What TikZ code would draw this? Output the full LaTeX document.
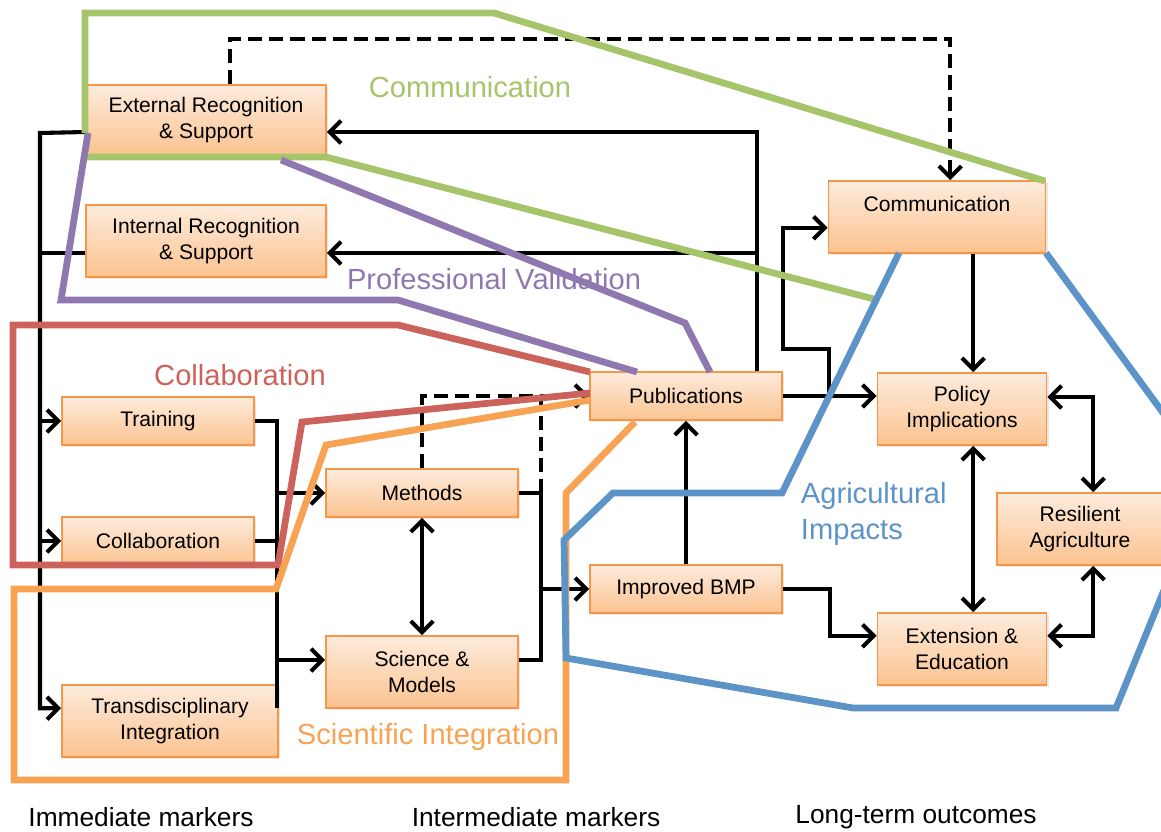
\documentclass[tikz,border=0pt]{standalone}
\usepackage{fontspec}
\setmainfont{Liberation Sans}
\usetikzlibrary{positioning}
\usetikzlibrary{arrows.meta}
\usetikzlibrary{shadows}

\definecolor{boxtop}{HTML}{FDEBDC}
\definecolor{boxbot}{HTML}{FBC390}
\definecolor{boxedge}{HTML}{F79646}
\definecolor{zgreen}{HTML}{A6C46A}
\definecolor{zpurple}{HTML}{8F78AF}
\definecolor{zred}{HTML}{CC625C}
\definecolor{zorange}{HTML}{F8A253}
\definecolor{zblue}{HTML}{5D94C8}

\begin{document}
\begin{tikzpicture}[x=0.025cm, y=-0.025cm,
    box/.style={draw=boxedge, line width=1.2pt, top color=boxtop, bottom color=boxbot,
                align=center, inner sep=0pt, font=\fontsize{15}{18}\selectfont,
                drop shadow={opacity=0.18, shadow xshift=1.5pt, shadow yshift=-1.5pt}},
    wire/.style={line width=2.9pt},
    arr/.style={wire, -{Straight Barb[length=8pt,width=16pt]}},
    arrs/.style={wire, {Straight Barb[length=8pt,width=16pt]}-{Straight Barb[length=8pt,width=16pt]}},
    dashwire/.style={dash pattern=on 10pt off 5pt},
    zone/.style={line width=4.8pt},
    group/.style={font=\fontsize{20.7}{25}\selectfont},
    stage/.style={font=\fontsize{18.7}{22}\selectfont}]
    \useasboundingbox (0,0) rectangle (1161,831);

    % boxes
    \node[box, minimum width=6cm, minimum height=1.75cm] (ext) at (206,120) {External Recognition\\\& Support};
    \node[box, minimum width=6cm, minimum height=1.8cm] (int) at (206,241) {Internal Recognition\\\& Support};
    \node[box, minimum width=4.8cm, minimum height=1.2cm] (train) at (158,421) {Training};
    \node[box, minimum width=4.8cm, minimum height=1.2cm] (collab) at (158,541) {Collaboration};
    \node[box, minimum width=5.4cm, minimum height=1.8cm] (trans) at (170,721) {Transdisciplinary\\Integration};
    \node[box, minimum width=4.8cm, minimum height=1.2cm] (meth) at (422,493) {Methods};
    \node[box, minimum width=4.8cm, minimum height=1.8cm] (sci) at (422,672) {Science \&\\Models};
    \node[box, minimum width=4.8cm, minimum height=1.2cm] (pub) at (686,396) {Publications};
    \node[box, minimum width=4.8cm, minimum height=1.2cm] (bmp) at (686,589) {Improved BMP};
    \node[box, minimum width=5.425cm, minimum height=1.8cm] (comm) at (937,217) {Communication\\\mbox{}};
    \node[box, minimum width=4.225cm, minimum height=1.8cm] (pol) at (962,409) {Policy\\Implications};
    \node[box, minimum width=4.15cm, minimum height=1.8cm] (res) at (1080,529) {Resilient\\Agriculture};
    \node[box, minimum width=4.225cm, minimum height=1.8cm] (edu) at (962,649) {Extension \&\\Education};

    % left side
    \coordinate (lbus) at (40,133);
    \coordinate (mbus) at (277,708);
    \coordinate (rbus) at (541,396);
    \coordinate (tbus) at ([xshift=1.78cm]pub.north);
    \draw[arr] ([yshift=-0.3cm]ext.west) -- (lbus) |- ([yshift=0.32cm]trans.west);
    \draw[wire] ([yshift=-0.3cm]int.west) -- ([yshift=-0.3cm]int.west -| lbus);
    \draw[arr] (lbus |- train.west) -- (train.west);
    \draw[arr] (lbus |- collab.west) -- (collab.west);
    \draw[wire] (train.east) -| (mbus);
    \draw[wire] (collab.east) -- (collab.east -| mbus);
    \draw[arr] (mbus |- meth.west) -- (meth.west);
    \draw[arr] ([yshift=0.3cm]sci.west -| mbus) -- ([yshift=0.3cm]sci.west);
    \draw[arrs] (meth.south) -- (sci.north);

    % middle
    \draw[wire] (meth.east) -- (meth.east -| rbus);
    \draw[wire] ([yshift=0.3cm]sci.east) -| (rbus |- meth.east);
    \draw[wire, dashwire] (rbus |- meth.east) -- (rbus);
    \draw[arr] (rbus |- bmp.west) -- (bmp.west);
    \draw[arr, dashwire] (meth.north) |- (pub.west);
    \draw[arr] (bmp.north) -- (pub.south);
    \draw[arr] (bmp.east) -- ++(47,0) |- ([yshift=0.33cm]edu.west);
    \draw[arr] (pub.east) -- (pub.east -| pol.west);
    \draw[arr] ([xshift=1.15cm]pub.east) -- ++(0,-47) -| ([yshift=-0.27cm]comm.west -| pub.east) -- ([yshift=-0.27cm]comm.west);
    \draw[arr] (tbus) |- ([yshift=-0.3cm]ext.east);
    \draw[arr] ([yshift=-0.3cm]int.east -| tbus) -- ([yshift=-0.3cm]int.east);
    \draw[arr, dashwire] ([xshift=0.6cm]ext.north) -- ++(0,-45) -| ([xshift=0.33cm]comm.north);

    % right side
    \draw[arr] ([xshift=0.28cm]pol.north |- comm.south) -- ([xshift=0.28cm]pol.north);
    \draw[arrs] ([xshift=0.28cm]pol.south) -- ([xshift=0.28cm]edu.north);
    \draw[arrs] ([yshift=0.3cm]pol.east) -| ([xshift=0.33cm]res.north);
    \draw[arrs] ([yshift=0.33cm]edu.east) -| ([xshift=0.33cm]res.south);

    % groupings
    \draw[zone, zgreen] (85,133) -- (85,13) -- (494,13) -- (1045,181);
    \draw[zone, zgreen] (85,157) -- (326,157) -- (874,299);
    \draw[zone, zpurple] (88,133) -- (61,300) -- (398,300) -- (637,372);
    \draw[zone, zpurple] (281,160) -- (685,323) -- (710,372);
    \draw[zone, zred] (590,393) -- (302,422) -- (278,565) -- (13,565) -- (13,325) -- (398,325) -- (590,372);
    \draw[zone, zorange] (590,400) -- (326,445) -- (276,589) -- (14,589) -- (14,780) -- (566,780) -- (566,493) -- (635,422);
    \draw[zone, zblue] (899,253) -- (782,493) -- (613,493) -- (564,540) -- (566,658) -- (853,708) -- (1116,708) -- (1210,477) -- (1046,253);

    % group labels
    \node[group, text=zgreen] (gcomm) at (470,87) {Communication};
    \node[group, text=zpurple] (gval) at (494,279) {Professional Validation};
    \node[group, text=zred] (gcollab) at (240,375) {Collaboration};
    \node[group, text=zorange] (gsci) at (428,737) {Scientific Integration};
    \node[group, text=zblue, align=left, anchor=west] (gagri) at (796,514) {Agricultural\\Impacts};

    % stages
    \node[stage] (s1) at (141,817) {Immediate markers};
    \node[stage] (s2) at (536,817) {Intermediate markers};
    \node[stage] (s3) at (916,817) {Long-term outcomes};
\end{tikzpicture}
\end{document}
